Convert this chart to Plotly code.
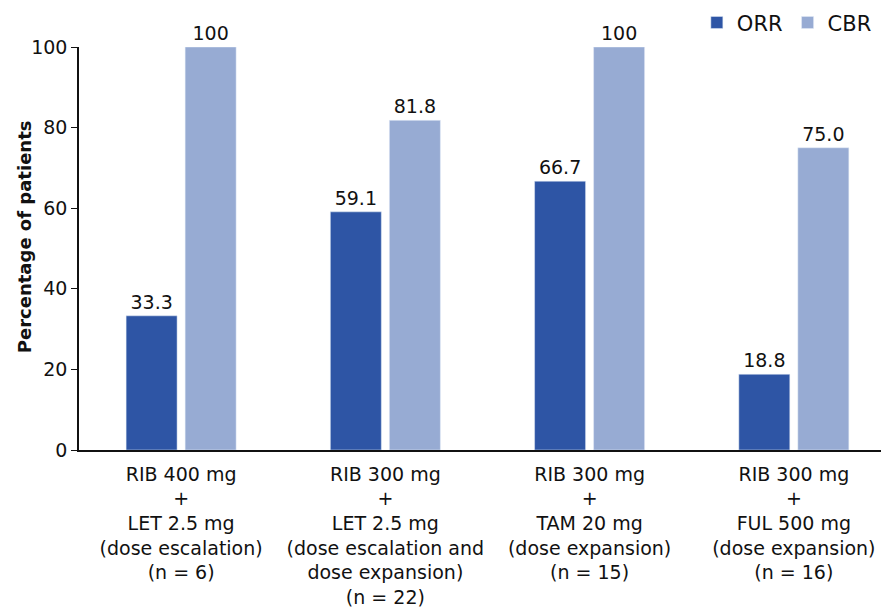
import plotly.graph_objects as go

categories = [
    "RIB 400 mg<br>+<br>LET 2.5 mg<br>(dose escalation)<br>(n = 6)",
    "RIB 300 mg<br>+<br>LET 2.5 mg<br>(dose escalation and<br>dose expansion)<br>(n = 22)",
    "RIB 300 mg<br>+<br>TAM 20 mg<br>(dose expansion)<br>(n = 15)",
    "RIB 300 mg<br>+<br>FUL 500 mg<br>(dose expansion)<br>(n = 16)",
]
orr = [33.3, 59.1, 66.7, 18.8]
cbr = [100, 81.8, 100, 75.0]
orr_labels = ["33.3", "59.1", "66.7", "18.8"]
cbr_labels = ["100", "81.8", "100", "75.0"]
y_ticks = [0, 20, 40, 60, 80, 100]

FONT = "DejaVu Sans, sans-serif"

fig = go.Figure()
fig.add_trace(go.Bar(name="ORR", x=categories, y=orr, text=orr_labels,
                     textposition="outside", marker_color="#2E55A5",
                     textfont=dict(size=19, color="#111"), cliponaxis=False))
fig.add_trace(go.Bar(name="CBR", x=categories, y=cbr, text=cbr_labels,
                     textposition="outside", marker_color="#97ABD3",
                     textfont=dict(size=19, color="#111"), cliponaxis=False))

# page body adds an 8px offset; figure sized to fill the rest of the window
fig.update_layout(
    width=881, height=604,
    margin=dict(l=71, r=0, t=39, b=162, autoexpand=False),
    paper_bgcolor="white", plot_bgcolor="white",
    font=dict(family=FONT, size=19, color="#111"),
    barmode="group", bargap=0.422, bargroupgap=0.136,
    showlegend=True,
    legend=dict(orientation="h", x=0.985, xanchor="right", y=1.06, yanchor="middle",
                font=dict(size=21), itemwidth=30, traceorder="normal",
                bgcolor="rgba(0,0,0,0)"),
    xaxis=dict(range=[-0.5, 3.466], showline=True, linecolor="#111", linewidth=1.5,
               ticks="", tickfont=dict(size=19), showgrid=False, automargin=False,
               ticklabelstandoff=6),
    yaxis=dict(range=[0, 100], tickvals=y_ticks, showline=True, linecolor="#111",
               linewidth=1.5, ticks="outside", ticklen=6, tickcolor="#111",
               showgrid=False, zeroline=False, tickfont=dict(size=19), automargin=False),
    annotations=[dict(text="<b>Percentage of patients</b>", textangle=-90,
                      xref="paper", yref="paper", x=(24 - 79) / 810, y=0.528,
                      xanchor="center", yanchor="middle", showarrow=False,
                      font=dict(size=18, family=FONT, color="#111"))],
)

fig.write_html("out.html")
